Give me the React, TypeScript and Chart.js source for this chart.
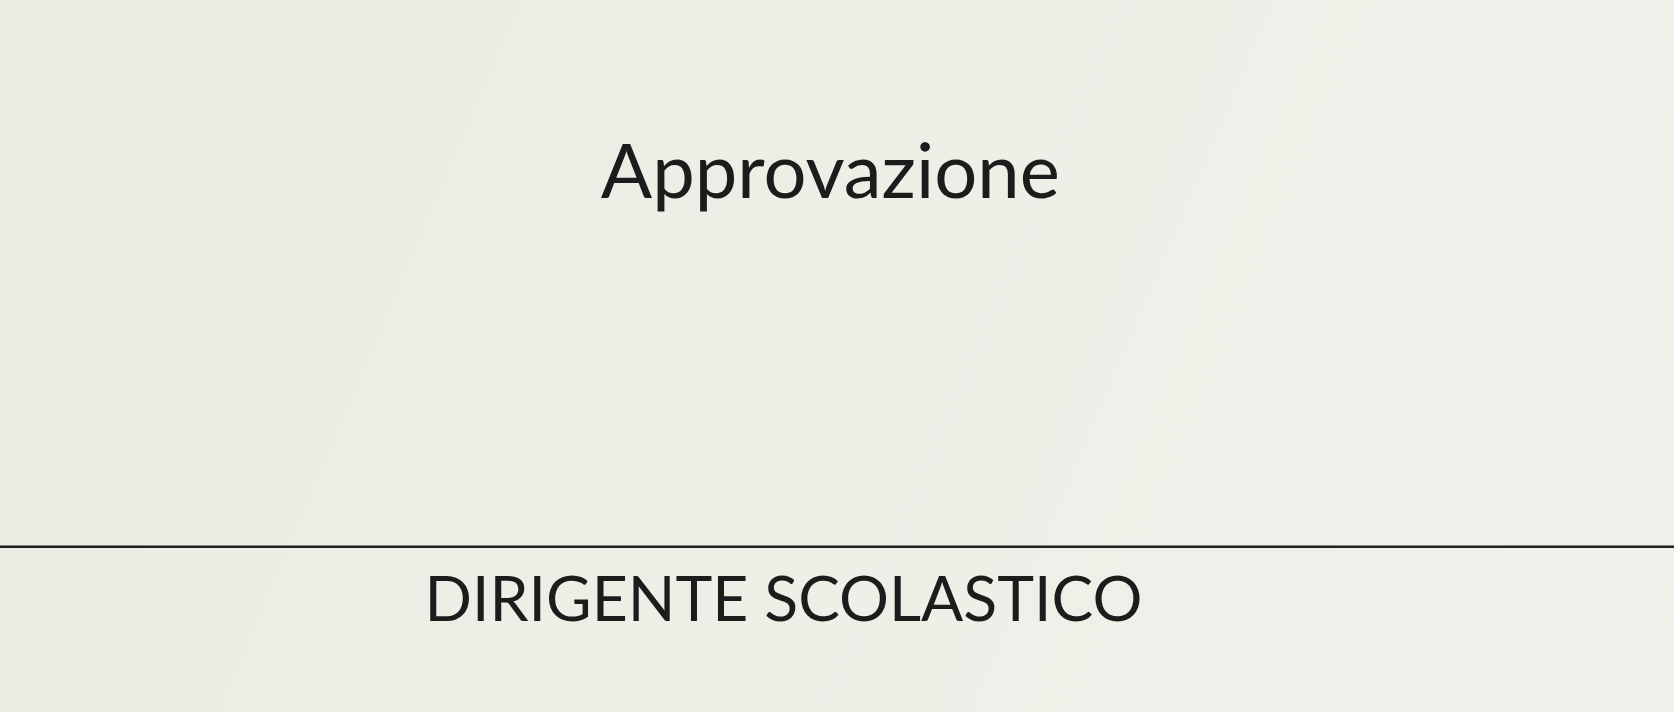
import React, { useEffect, useRef } from "react";
import { Chart, registerables } from "chart.js";

Chart.register(...registerables);

// Baseline (signature line) spanning the full page width, in page units (0..100)
const baselineX = [0, 100];
const baselineY = [23.2, 23.2];

// Text labels: content, centre position (page units), target width (px)
const labelTexts = ["Approvazione", "DIRIGENTE SCOLASTICO"];
const labelX = [49.6, 46.8];
const labelY = [75.6, 15.6];
const labelWidths = [459, 718];

const textPlugin = {
  id: "pageText",
  afterDatasetsDraw(chart: any) {
    const { ctx, scales } = chart;
    ctx.save();
    ctx.fillStyle = "#1c1c1c";
    ctx.textAlign = "center";
    ctx.textBaseline = "middle";
    labelTexts.forEach((t, i) => {
      ctx.font = "100px Lato, 'Open Sans', sans-serif";
      const w = ctx.measureText(t).width;
      const size = (100 * labelWidths[i]) / w;
      ctx.font = `${size}px Lato, 'Open Sans', sans-serif`;
      ctx.fillText(t, scales.x.getPixelForValue(labelX[i]), scales.y.getPixelForValue(labelY[i]));
    });
    ctx.restore();
  },
};

const bgPlugin = {
  id: "pageBg",
  beforeDraw(chart: any) {
    const { ctx, width, height } = chart;
    const g = ctx.createLinearGradient(0, 0, width, height);
    g.addColorStop(0, "#ecebe3");
    g.addColorStop(1, "#f1f0ea");
    ctx.save();
    ctx.fillStyle = g;
    ctx.fillRect(0, 0, width, height);
    ctx.restore();
  },
};

export default function App() {
  const ref = useRef<HTMLCanvasElement>(null);
  useEffect(() => {
    document.body.style.margin = "0";
    const chart = new Chart(ref.current!, {
      type: "line",
      data: {
        datasets: [
          {
            data: baselineX.map((x, i) => ({ x, y: baselineY[i] })),
            borderColor: "#202020",
            borderWidth: 2.5,
            pointRadius: 0,
          },
        ],
      },
      options: {
        responsive: false,
        animation: false,
        layout: { padding: 0 },
        plugins: { legend: { display: false }, tooltip: { enabled: false } },
        scales: {
          x: { type: "linear", min: 0, max: 100, display: false },
          y: { type: "linear", min: 0, max: 100, display: false },
        },
      },
      plugins: [bgPlugin, textPlugin],
    });
    return () => chart.destroy();
  }, []);
  return <canvas ref={ref} width={1674} height={712} style={{ display: "block" }} />;
}
